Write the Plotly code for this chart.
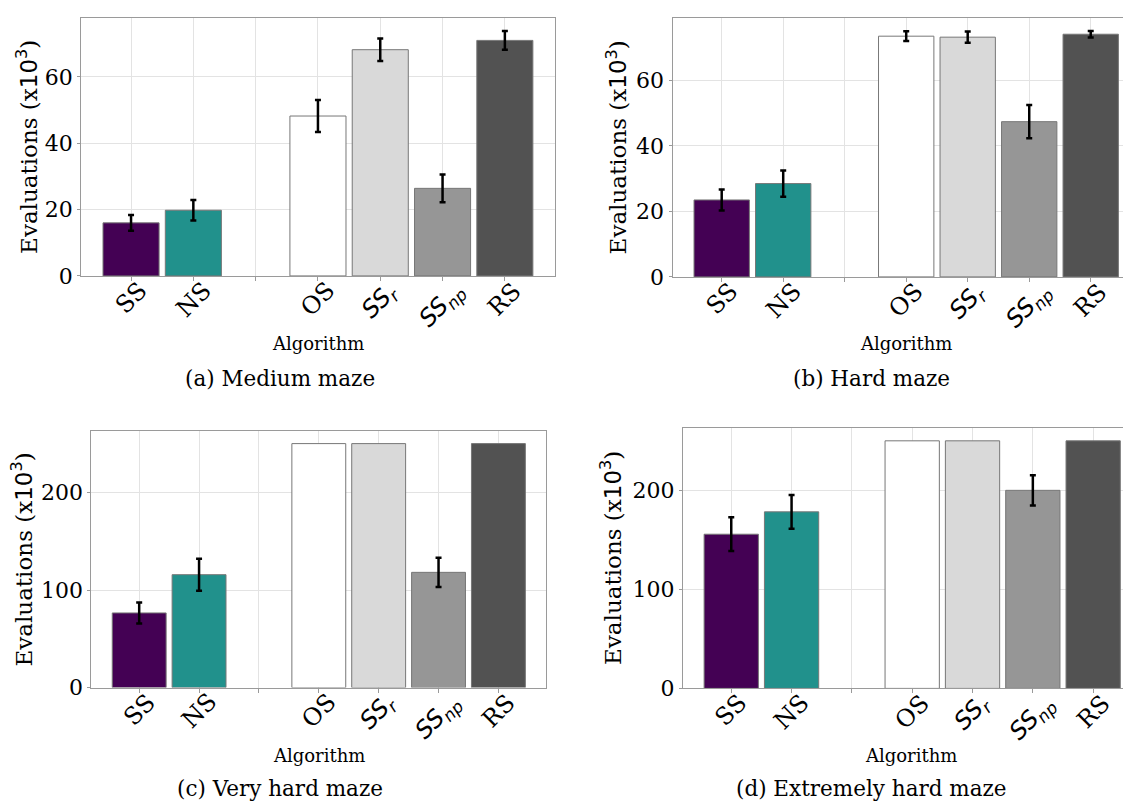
import plotly.graph_objects as go

W, H = 1131, 810

# ---------------- data ----------------
categories = ["SS", "NS", "", "OS", "SSr", "SSnp", "RS"]
tick_labels = [
    "SS",
    "NS",
    "",
    "OS",
    '<span style="font-family:DejaVu Sans"><i>SS</i><sub><i>r</i></sub></span>',
    '<span style="font-family:DejaVu Sans"><i>SS</i><sub><i>np</i></sub></span>',
    "RS",
]
bar_colors = ["#440154", "#21918c", "#ffffff", "#d9d9d9", "#969696", "#525252"]

medium_mean = [16.0, 19.8, 48.2, 68.2, 26.4, 71.0]
medium_err = [2.4, 3.1, 4.8, 3.4, 4.2, 2.8]

hard_mean = [23.5, 28.5, 73.5, 73.2, 47.4, 74.1]
hard_err = [3.2, 4.0, 1.5, 1.7, 5.1, 1.0]

vhard_mean = [76.5, 115.7, 250.0, 250.0, 118.1, 250.0]
vhard_err = [10.7, 16.4, None, None, 15.0, None]

xhard_mean = [155.7, 178.3, 250.0, 250.0, 200.0, 250.0]
xhard_err = [17.0, 17.0, None, None, 15.3, None]

captions = ["(a) Medium maze", "(b) Hard maze", "(c) Very hard maze", "(d) Extremely hard maze"]
y_ticks_small = [0, 20, 40, 60]
y_ticks_large = [0, 100, 200]

# ---------------- layout helpers ----------------
def px_x(v):
    return v / W

def px_y(v):
    return 1 - v / H

SERIF = "DejaVu Serif"
GRID = "#e3e3e3"
FRAME = "#9a9a9a"

panels = [
    dict(mean=medium_mean, err=medium_err, xd=(73.2, 546.7), yd=(10, 272.3), xr=6.8, yr=77.8,
         yt=y_ticks_small, ylab_x=19, cap=(272, 377), alg_y=340.5, mirror=True),
    dict(mean=hard_mean, err=hard_err, xd=(664.5, 1131), yd=(10, 273.3), xr=6.785, yr=79.1,
         yt=y_ticks_small, ylab_x=609, cap=(864, 377), alg_y=340.7, mirror=False),
    dict(mean=vhard_mean, err=vhard_err, xd=(83.3, 538.3), yd=(430.3, 690.7), xr=6.8, yr=262.5,
         yt=y_ticks_large, ylab_x=14, cap=(272, 793), alg_y=759.3, mirror=True),
    dict(mean=xhard_mean, err=xhard_err, xd=(675, 1131), yd=(427.3, 691.5), xr=6.76, yr=262.5,
         yt=y_ticks_large, ylab_x=603.5, cap=(864, 793), alg_y=759.3, mirror=False),
]

bar_x = [i for i, c in enumerate(categories) if c]

fig = go.Figure()
annotations = []
layout_axes = {}

for k, p in enumerate(panels):
    n = "" if k == 0 else str(k + 1)
    xa, ya = "x" + n, "y" + n
    fig.add_trace(go.Bar(
        x=bar_x, y=p["mean"], xaxis=xa, yaxis=ya, width=0.9,
        marker=dict(color=bar_colors, line=dict(color="#777777", width=1)),
        showlegend=False, hoverinfo="y",
    ))
    # error bars only where an error value exists
    ex = [x for x, e in zip(bar_x, p["err"]) if e is not None]
    ey = [m for m, e in zip(p["mean"], p["err"]) if e is not None]
    ee = [e for e in p["err"] if e is not None]
    fig.add_trace(go.Scatter(
        x=ex, y=ey, xaxis=xa, yaxis=ya, mode="markers",
        marker=dict(size=1, color="rgba(0,0,0,0)"),
        error_y=dict(type="data", array=ee, visible=True, color="black",
                     thickness=2.5, width=3),
        showlegend=False, hoverinfo="skip",
    ))
    layout_axes["xaxis" + n] = dict(
        domain=[px_x(p["xd"][0]), px_x(p["xd"][1])], anchor=ya,
        range=[-0.8, p["xr"]], tickvals=list(range(len(categories))),
        showticklabels=False, ticks="outside", ticklen=4, tickcolor=FRAME,
        showgrid=True, gridcolor=GRID, gridwidth=1,
        showline=True, linecolor=FRAME, linewidth=1, mirror=True, zeroline=False,
    )
    layout_axes["yaxis" + n] = dict(
        domain=[px_y(p["yd"][1]), px_y(p["yd"][0])], anchor=xa,
        range=[0, p["yr"]], tickvals=p["yt"], ticks="outside", ticklen=3, tickcolor=FRAME,
        tickfont=dict(family=SERIF, size=22, color="black"),
        showgrid=True, gridcolor=GRID, gridwidth=1,
        showline=True, linecolor=FRAME, linewidth=1, mirror=p["mirror"], zeroline=False,
    )
    # rotated category labels
    for i, lab in enumerate(tick_labels):
        if not lab:
            continue
        annotations.append(dict(
            text=lab, x=i, xref=xa, y=0, yref=ya + " domain",
            xanchor="center", yanchor="top", yshift=2, textangle=-45,
            showarrow=False, font=dict(family=SERIF, size=24, color="black"),
        ))
    # x-axis title
    annotations.append(dict(
        text="Algorithm", x=px_x((p["xd"][0] + p["xd"][1]) / 2), y=px_y(p["alg_y"]),
        xref="paper", yref="paper", xanchor="center", yanchor="middle",
        showarrow=False, font=dict(family=SERIF, size=18, color="black"),
    ))
    # y-axis title
    annotations.append(dict(
        text='Evaluations (x<span style="font-family:DejaVu Sans">10<sup>3</sup></span>)',
        x=px_x(p["ylab_x"]), y=px_y((p["yd"][0] + p["yd"][1]) / 2),
        xref="paper", yref="paper", xanchor="center", yanchor="middle", textangle=-90,
        showarrow=False, font=dict(family=SERIF, size=23, color="black"),
    ))
    # caption
    annotations.append(dict(
        text=captions[k], x=px_x(p["cap"][0]), y=px_y(p["cap"][1]),
        xref="paper", yref="paper", xanchor="center", yanchor="middle",
        showarrow=False, font=dict(family=SERIF, size=21.5, color="black"),
    ))

fig.update_layout(
    width=W, height=H, autosize=False,
    margin=dict(l=0, r=0, t=0, b=0),
    paper_bgcolor="white", plot_bgcolor="white",
    annotations=annotations, bargap=0.1,
    **layout_axes,
)

fig.write_html("out.html")
